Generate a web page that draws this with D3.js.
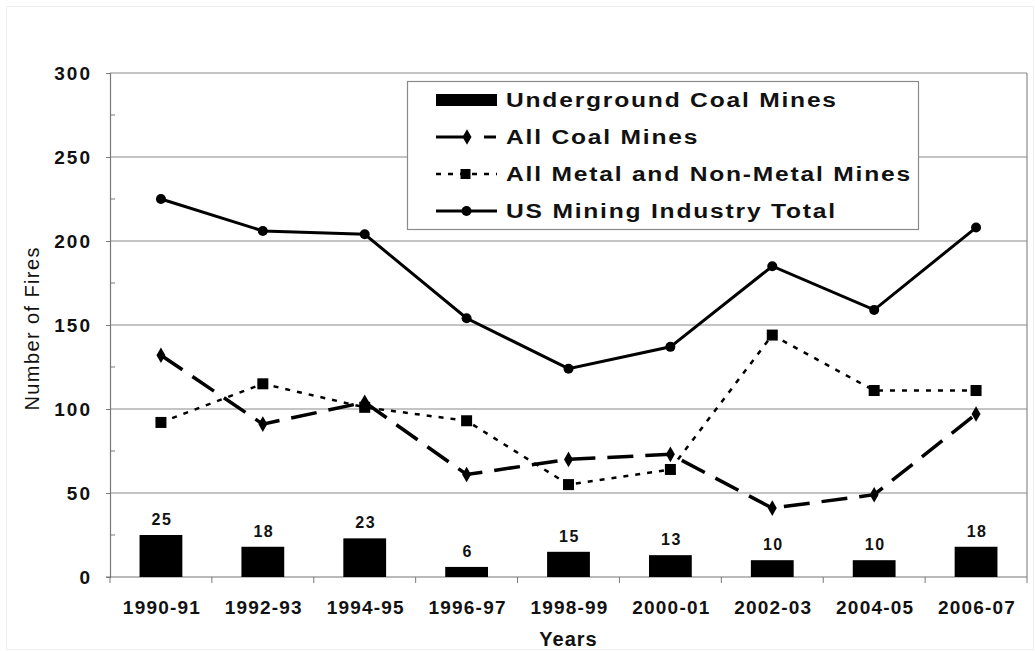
<!DOCTYPE html>
<html>
<head>
<meta charset="utf-8">
<script src="https://cdn.jsdelivr.net/npm/d3@7"></script>
<style>
  body { margin: 0; background: #fff; }
  svg text { font-family: Arial, "Liberation Sans", sans-serif; fill: #111; }
</style>
</head>
<body>
<svg id="chart" width="1035" height="651"></svg>
<script>
// data
const years = ["1990-91","1992-93","1994-95","1996-97","1998-99","2000-01","2002-03","2004-05","2006-07"]
const undergroundCoal = [25, 18, 23, 6, 15, 13, 10, 10, 18]
const allCoal = [132, 91, 104, 61, 70, 73, 41, 49, 97]
const metalNonMetal = [92, 115, 101, 93, 55, 64, 144, 111, 111]
const usTotal = [225, 206, 204, 154, 124, 137, 185, 159, 208]
const yTicks = [0, 50, 100, 150, 200, 250, 300]

const MARGIN = {left: 110, right: 8, top: 73, bottom: 74}
const WIDTH = 1035, HEIGHT = 651

let svg = d3.select("#chart")

// faint frame round the picture
svg.append("rect")
  .attr("x", 6.5).attr("y", 6.5)
  .attr("width", WIDTH - 8).attr("height", HEIGHT - 8)
  .attr("fill", "none").attr("stroke", "#eee")

let xScale = d3.scaleBand()
  .domain(years)
  .range([MARGIN.left, WIDTH - MARGIN.right])

let yScale = d3.scaleLinear()
  .domain([0, 300])
  .range([HEIGHT - MARGIN.bottom, MARGIN.top])

// gridlines
svg.append("g")
  .selectAll("line")
  .data(yTicks.filter(d => d > 0))
  .join("line")
  .attr("x1", MARGIN.left).attr("x2", WIDTH - MARGIN.right)
  .attr("y1", d => yScale(d)).attr("y2", d => yScale(d))
  .attr("stroke", "#8a8a8a").attr("stroke-width", 1.2)

// right border
svg.append("line")
  .attr("x1", WIDTH - MARGIN.right).attr("x2", WIDTH - MARGIN.right)
  .attr("y1", yScale(300)).attr("y2", yScale(0))
  .attr("stroke", "#8a8a8a").attr("stroke-width", 1.2)

// y axis
let yAxis = svg.append("g")
  .attr("transform", `translate(${MARGIN.left},0)`)
  .call(d3.axisLeft(yScale).tickValues(yTicks).tickSize(4).tickPadding(14))
yAxis.select(".domain").attr("stroke", "#777").attr("stroke-width", 1.2)
yAxis.selectAll(".tick line").attr("stroke", "#777")
yAxis.selectAll("text")
  .attr("font-size", 19).attr("font-weight", "bold")
  .attr("letter-spacing", 2)
  .attr("font-family", "Arial, 'Liberation Sans', sans-serif").attr("fill", "#111")

// minor ticks inside, at the half steps
svg.append("g")
  .selectAll("line")
  .data([25, 75, 125, 175, 225, 275])
  .join("line")
  .attr("x1", MARGIN.left).attr("x2", MARGIN.left + 5)
  .attr("y1", d => yScale(d)).attr("y2", d => yScale(d))
  .attr("stroke", "#777")

// x axis with ticks between categories
svg.append("line")
  .attr("x1", MARGIN.left - 4).attr("x2", WIDTH - MARGIN.right)
  .attr("y1", yScale(0)).attr("y2", yScale(0))
  .attr("stroke", "#777").attr("stroke-width", 1.2)
svg.append("g")
  .selectAll("line")
  .data(years.concat(["end"]))
  .join("line")
  .attr("x1", (d, i) => MARGIN.left + i * xScale.step())
  .attr("x2", (d, i) => MARGIN.left + i * xScale.step())
  .attr("y1", yScale(0)).attr("y2", yScale(0) + 6)
  .attr("stroke", "#777")

svg.append("g")
  .selectAll("text")
  .data(years)
  .join("text")
  .attr("x", d => xScale(d) + xScale.bandwidth() / 2 + 1)
  .attr("y", yScale(0) + 37)
  .attr("text-anchor", "middle")
  .attr("font-size", 19).attr("font-weight", "bold")
  .attr("letter-spacing", 1.2)
  .text(d => d)

// axis titles
svg.append("text")
  .attr("x", (MARGIN.left + WIDTH - MARGIN.right) / 2)
  .attr("y", 646)
  .attr("text-anchor", "middle")
  .attr("font-size", 20).attr("font-weight", "bold")
  .attr("letter-spacing", 1)
  .text("Years")

svg.append("text")
  .attr("transform", `translate(39, ${yScale(148)}) rotate(-90)`)
  .attr("text-anchor", "middle")
  .attr("font-size", 20)
  .attr("letter-spacing", 1.4)
  .text("Number of Fires")

// bars
const barW = xScale.bandwidth() * 0.42
svg.append("g")
  .selectAll("rect")
  .data(years)
  .join("rect")
  .attr("x", d => xScale(d) + (xScale.bandwidth() - barW) / 2)
  .attr("y", (d, i) => yScale(undergroundCoal[i]))
  .attr("width", barW)
  .attr("height", (d, i) => yScale(0) - yScale(undergroundCoal[i]))
  .attr("fill", "#000")

svg.append("g")
  .selectAll("text")
  .data(years)
  .join("text")
  .attr("x", d => xScale(d) + xScale.bandwidth() / 2 + 1)
  .attr("y", (d, i) => yScale(undergroundCoal[i]) - 10)
  .attr("text-anchor", "middle")
  .attr("font-size", 16).attr("font-weight", "bold")
  .attr("letter-spacing", 1.5)
  .text((d, i) => undergroundCoal[i])

const cx = d => xScale(d) + xScale.bandwidth() / 2

function drawSeries(values, dash, width) {
  let line = d3.line()
    .x((v, i) => cx(years[i]))
    .y(v => yScale(v))
  svg.append("path")
    .attr("d", line(values))
    .attr("fill", "none")
    .attr("stroke", "#000")
    .attr("stroke-width", width)
    .attr("stroke-dasharray", dash)
}

drawSeries(metalNonMetal, "5,7", 2.5)
drawSeries(allCoal, "26,12", 3.5)
drawSeries(usTotal, null, 3)

// markers
svg.append("g").selectAll("rect")
  .data(metalNonMetal)
  .join("rect")
  .attr("x", (v, i) => cx(years[i]) - 5.5)
  .attr("y", v => yScale(v) - 5.5)
  .attr("width", 11).attr("height", 11)
  .attr("fill", "#000")

const diamond = d3.symbol().type(d3.symbolDiamond).size(70)
svg.append("g").selectAll("path")
  .data(allCoal)
  .join("path")
  .attr("d", diamond)
  .attr("transform", (v, i) => `translate(${cx(years[i])},${yScale(v)})`)
  .attr("fill", "#000")

svg.append("g").selectAll("circle")
  .data(usTotal)
  .join("circle")
  .attr("cx", (v, i) => cx(years[i]))
  .attr("cy", v => yScale(v))
  .attr("r", 5)
  .attr("fill", "#000")

// legend
const legendNames = ["Underground Coal Mines", "All Coal Mines", "All Metal and Non-Metal Mines", "US Mining Industry Total"]
let legend = svg.append("g")
legend.append("rect")
  .attr("x", 407.5).attr("y", 81.5)
  .attr("width", 511).attr("height", 148)
  .attr("fill", "#fff").attr("stroke", "#8a8a8a").attr("stroke-width", 1.2)

const rowY = [100, 137, 174, 211]
const sx1 = 436, sx2 = 497

legend.append("rect")
  .attr("x", sx1).attr("y", rowY[0] - 6)
  .attr("width", sx2 - sx1).attr("height", 12)
  .attr("fill", "#000")

legend.append("line")
  .attr("x1", sx1).attr("x2", sx2).attr("y1", rowY[1]).attr("y2", rowY[1])
  .attr("stroke", "#000").attr("stroke-width", 3).attr("stroke-dasharray", "32,16,12")
legend.append("path")
  .attr("d", diamond)
  .attr("transform", `translate(467,${rowY[1]})`)

legend.append("line")
  .attr("x1", sx1).attr("x2", sx2).attr("y1", rowY[2]).attr("y2", rowY[2])
  .attr("stroke", "#000").attr("stroke-width", 2.5).attr("stroke-dasharray", "5,7")
legend.append("rect")
  .attr("x", (sx1 + sx2) / 2 - 6).attr("y", rowY[2] - 5)
  .attr("width", 10).attr("height", 10)

legend.append("line")
  .attr("x1", sx1).attr("x2", sx2).attr("y1", rowY[3]).attr("y2", rowY[3])
  .attr("stroke", "#000").attr("stroke-width", 3)
legend.append("circle")
  .attr("cx", (sx1 + sx2) / 2).attr("cy", rowY[3]).attr("r", 5)

// legend labels are drawn a bit wide, like the original
legend.selectAll("text")
  .data(legendNames)
  .join("text")
  .attr("transform", (d, i) => `translate(506, ${rowY[i] + 7}) scale(1.2, 1)`)
  .attr("font-size", 20.5).attr("font-weight", "bold")
  .attr("letter-spacing", 1.5)
  .text(d => d)
</script>
</body>
</html>
